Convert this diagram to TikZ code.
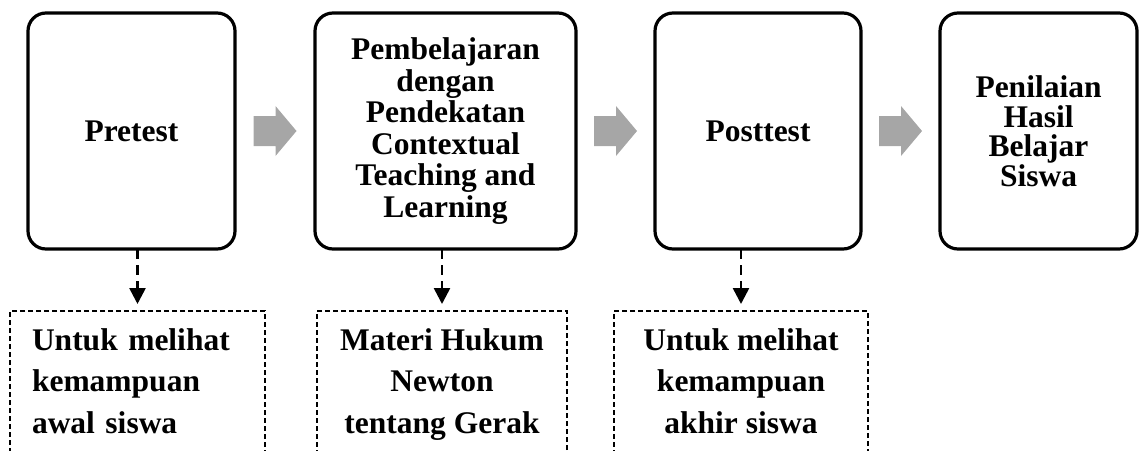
\documentclass[tikz,border=0pt]{standalone}
\usepackage{fontspec}
\setmainfont{Liberation Serif}
\usepackage{xcolor}
\usepackage{tikz}
\usetikzlibrary{arrows.meta,positioning,calc}

\definecolor{arrowgray}{RGB}{166,166,166}

\begin{document}
\begin{tikzpicture}[x=1pt, y=-1pt,
  stage/.style={draw, line width=3.2pt, rounded corners=18pt, minimum height=236pt,
    align=center, inner sep=0pt, outer sep=0pt,
    font=\bfseries\fontsize{31.5}{31.5}\selectfont},
  note/.style={draw, line width=1.4pt, dash pattern=on 5pt off 3pt, anchor=north,
    minimum height=145pt, inner ysep=0pt, outer sep=0pt,
    font=\bfseries\fontsize{31.5}{41.5}\selectfont},
  flow/.style={line width=2.6pt, dash pattern=on 10pt off 6pt,
    -{Triangle[width=16pt,length=16pt]}, shorten >=7pt},
  blockarrow/.style={fill=arrowgray}]
\clip (0,0) rectangle (1139,450);

\node[stage, minimum width=207pt] (pre) at (131.5,131) {Pretest};
\node[stage, minimum width=261pt, right=80pt of pre] (ctl) {Pembelajaran\\dengan\\Pendekatan\\Contextual\\Teaching and\\Learning};
\node[stage, minimum width=206pt, right=79pt of ctl] (post) {Posttest};
\node[stage, minimum width=197pt, right=79pt of post,
  font=\bfseries\fontsize{31.5}{29.5}\selectfont] (nilai) {Penilaian\\Hasil\\Belajar\\Siswa};

\node[note, text width=211pt, inner xsep=22pt, align=left] (dpre) at (137.5,311) {\strut Untuk melihat\\kemampuan\\awal siswa\strut};
\node[note, minimum width=250pt, align=center] (dctl) at (442,311) {\strut Materi Hukum\\Newton\\tentang Gerak\strut};
\node[note, minimum width=254pt, align=center] (dpost) at (741,311) {\strut Untuk melihat\\kemampuan\\akhir siswa\strut};

% block arrows between the stages
\foreach \a/\b in {pre/ctl, ctl/post, post/nilai} {
\fill[blockarrow] ($(\a.east)!0.5!(\b.west)$) ++(-21.5,-15) -- ++(22,0) -- ++(0,-10) -- ++(21,25) -- ++(-21,25) -- ++(0,-10) -- ++(-22,0) -- cycle; }

\draw[flow] (dpre.north |- pre.south) -- (dpre.north);
\draw[flow] (dctl.north |- ctl.south) -- (dctl.north);
\draw[flow] (dpost.north |- post.south) -- (dpost.north);
\end{tikzpicture}
\end{document}
